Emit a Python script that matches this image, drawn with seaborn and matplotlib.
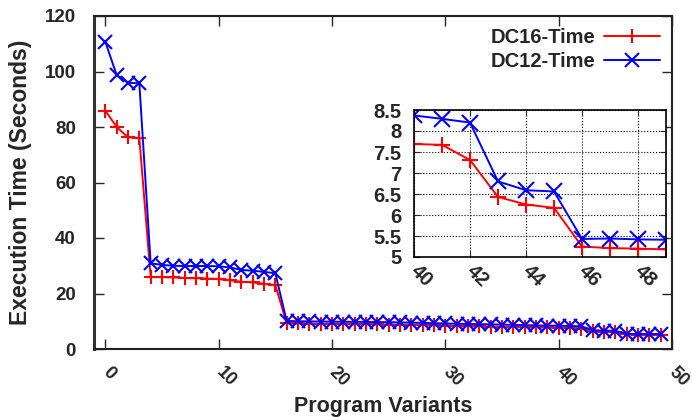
import matplotlib
matplotlib.use("Agg")
import matplotlib.pyplot as plt
import seaborn as sns
import pandas as pd
import numpy as np

variants = list(range(50))
dc16_time = [85.9, 80.0, 76.3, 76.0, 26.0, 25.9, 25.8, 25.6, 25.5, 25.4, 25.2, 24.8, 24.2, 24.0, 23.5, 23.0,
             9.3, 9.2, 9.15, 9.1, 9.05, 9.0, 8.95, 8.9, 8.85, 8.8, 8.75, 8.7, 8.6, 8.5, 8.45, 8.4, 8.3, 8.2,
             8.1, 8.0, 7.95, 7.85, 7.8, 7.75,
             7.69, 7.67, 7.31, 6.43, 6.25, 6.17, 5.25, 5.21, 5.20, 5.18]
dc12_time = [110.7, 98.7, 96.0, 95.7, 30.9, 30.3, 30.0, 29.9, 29.9, 29.9, 29.8, 29.4, 28.5, 28.2, 27.8, 27.3,
             10.1, 10.0, 9.95, 9.9, 9.85, 9.8, 9.8, 9.75, 9.7, 9.65, 9.6, 9.5, 9.4, 9.3, 9.2, 9.1, 9.0, 8.95,
             8.9, 8.8, 8.7, 8.6, 8.5, 8.45,
             8.37, 8.29, 8.20, 6.80, 6.59, 6.56, 5.43, 5.44, 5.42, 5.41]
series_names = ["DC16-Time", "DC12-Time"]
x_ticks = [0, 10, 20, 30, 40, 50]
y_ticks = [0, 20, 40, 60, 80, 100, 120]
inset_x_ticks = [40, 42, 44, 46, 48]
inset_y_ticks = [5, 5.5, 6, 6.5, 7, 7.5, 8, 8.5]

sns.set_style("ticks")
plt.rcParams['font.family'] = ['Liberation Sans', 'DejaVu Sans']
plt.rcParams['font.weight'] = 'bold'
plt.rcParams['axes.labelweight'] = 'bold'

colors = ["#ff0000", "#0000ff"]
marks = ["+", "x"]
series = [dc16_time, dc12_time]

fig = plt.figure(figsize=(6.92, 4.17), dpi=100)
ax = fig.add_axes([94/692, 1-349/417, (672-94)/692, (349-16)/417])
axi = fig.add_axes([414/692, 1-257/417, (666-414)/692, (257-110)/417])

for name, vals, c, m in zip(series_names, series, colors, marks):
    sns.lineplot(x=variants, y=vals, color=c, marker=m, markersize=10,
                 markeredgewidth=1.5, markeredgecolor=c, linewidth=1.4,
                 ax=ax, label=name)
    sns.lineplot(x=variants[40:], y=vals[40:], color=c, marker=m, markersize=11,
                 markeredgewidth=1.5, markeredgecolor=c, linewidth=1.4,
                 ax=axi, legend=False)

ax.set_xlim(-1, 50)
ax.set_ylim(0, 120)
ax.set_xticks(x_ticks)
ax.set_yticks(y_ticks)
ax.tick_params(direction='in', length=7, width=1, top=True, right=True)
ax.set_xticklabels([str(t) for t in x_ticks], rotation=-45, ha='left', va='center',
                   rotation_mode='anchor', fontweight='bold', fontsize=13)
ax.set_yticklabels([str(t) for t in y_ticks], fontweight='bold', fontsize=13.5)
ax.tick_params(axis='x', pad=15)
ax.tick_params(axis='y', pad=13)
for s in ax.spines.values():
    s.set_linewidth(1.5)
    s.set_color('#222222')
ax.spines['left'].set_linewidth(2.2)
ax.spines['left'].set_color('#333333')
ax.set_xlabel("Program Variants", fontsize=15.5, fontweight='bold', labelpad=4)
ax.set_ylabel("Execution Time (Seconds)", fontsize=16.5, fontweight='bold', labelpad=9)

handles, labels = ax.get_legend_handles_labels()
ax.legend(handles, labels, loc='upper right', frameon=False, markerfirst=False,
          handlelength=2.8, handletextpad=0.4, borderaxespad=0.2, labelspacing=0.25,
          prop={'weight': 'bold', 'size': 14.5})

axi.set_xlim(40, 49)
axi.set_ylim(5, 8.5)
axi.set_xticks(inset_x_ticks)
axi.set_yticks(inset_y_ticks)
axi.set_yticklabels([f"{t:g}" for t in inset_y_ticks], fontweight='bold')
axi.set_xticklabels([str(t) for t in inset_x_ticks], rotation=-45, ha='left', va='center',
                    rotation_mode='anchor', fontweight='bold')
axi.tick_params(direction='in', length=4, top=True, right=True, labelsize=14.5)
axi.tick_params(axis='x', pad=8)
axi.tick_params(axis='y', pad=9)
axi.grid(True, color='black', linestyle=':', linewidth=0.8)
axi.set_xlabel("")
axi.set_ylabel("")
for s in axi.spines.values():
    s.set_linewidth(1.2)
    s.set_color('black')

fig.savefig("out.png", dpi=100)
